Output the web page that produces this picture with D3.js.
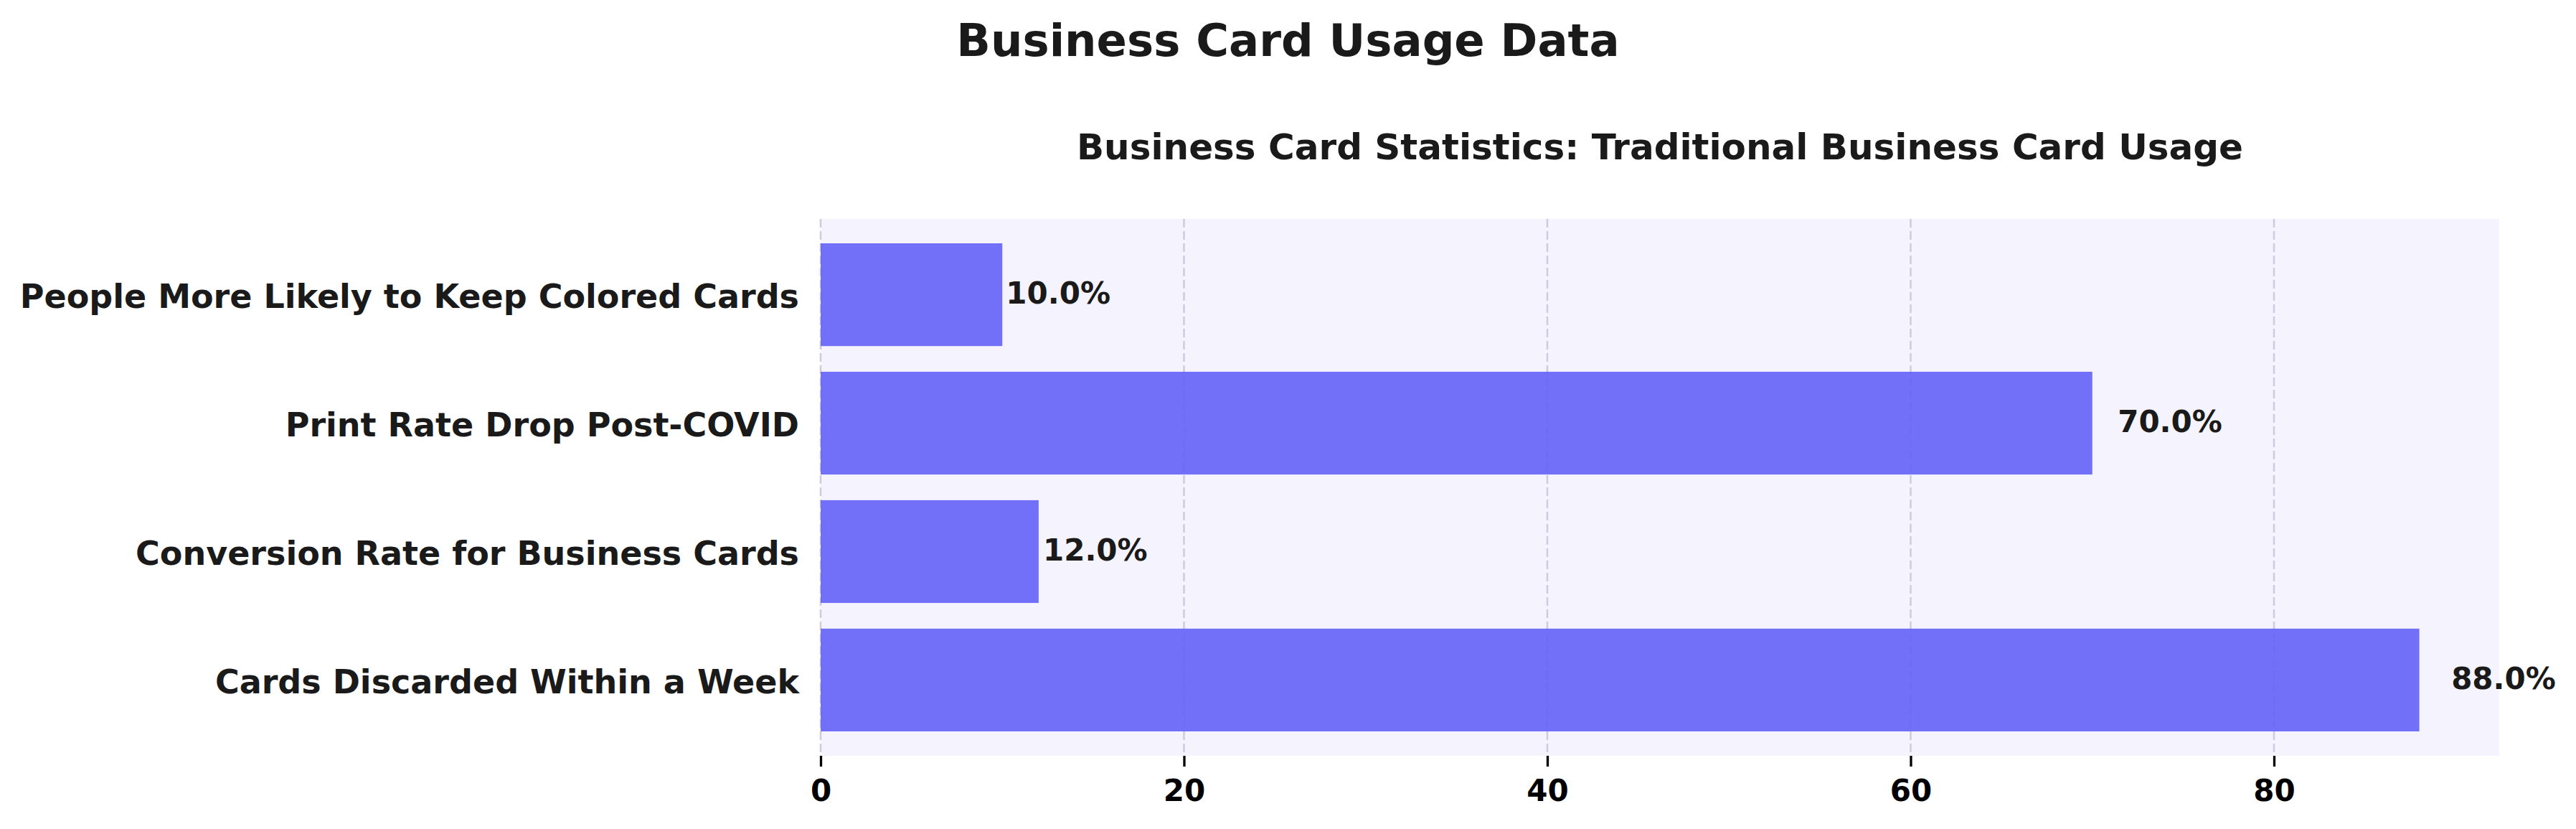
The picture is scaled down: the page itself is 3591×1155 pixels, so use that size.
<!DOCTYPE html>
<html lang="en">
  <head>
    <meta charset="UTF-8" />
    <title>Business Card Usage Data</title>
    <script src="https://d3js.org/d3.v7.min.js"></script>
    <style>
      body {
        margin: 0;
        background: #fff;
      }
      text {
        font-family: "DejaVu Sans", sans-serif;
        font-weight: bold;
      }
    </style>
  </head>
  <body>
    <div id="chart"></div>

    <script>
      // data (top to bottom as shown)
      const categories = [
        "People More Likely to Keep Colored Cards",
        "Print Rate Drop Post-COVID",
        "Conversion Rate for Business Cards",
        "Cards Discarded Within a Week",
      ];
      const values = [10, 70, 12, 88];
      const xTicks = [0, 20, 40, 60, 80];

      const width = 3591,
        height = 1155;
      const margin = { top: 305, right: 107, bottom: 102, left: 1144 };

      const svg = d3
        .select("#chart")
        .append("svg")
        .attr("width", width)
        .attr("height", height);

      const x = d3
        .scaleLinear()
        .domain([0, d3.max(values) * 1.05])
        .range([margin.left, width - margin.right]);

      const y = d3
        .scaleBand()
        .domain(categories)
        .range([margin.top, height - margin.bottom])
        .paddingInner(0.2)
        .paddingOuter(0.19);

      // plot background
      svg
        .append("rect")
        .attr("x", margin.left)
        .attr("y", margin.top)
        .attr("width", width - margin.right - margin.left)
        .attr("height", height - margin.bottom - margin.top)
        .attr("fill", "#f5f3fd");

      // dashed vertical grid
      svg
        .append("g")
        .selectAll("line")
        .data(xTicks)
        .enter()
        .append("line")
        .attr("x1", (d) => x(d))
        .attr("x2", (d) => x(d))
        .attr("y1", margin.top)
        .attr("y2", height - margin.bottom)
        .attr("stroke", "#cfcadf")
        .attr("stroke-width", 2.5)
        .attr("stroke-dasharray", "12,5");

      // bars
      svg
        .append("g")
        .selectAll("rect")
        .data(values)
        .enter()
        .append("rect")
        .attr("x", x(0))
        .attr("y", (d, i) => y(categories[i]))
        .attr("width", (d) => x(d) - x(0))
        .attr("height", y.bandwidth())
        .attr("fill", "#6461f8")
        .attr("fill-opacity", 0.9);

      // value labels
      svg
        .append("g")
        .selectAll("text")
        .data(values)
        .enter()
        .append("text")
        .attr("x", (d) => x(d * 1.02))
        .attr("y", (d, i) => y(categories[i]) + y.bandwidth() / 2)
        .attr("dy", "0.29em")
        .attr("font-size", 42)
        .attr("fill", "#1a1a1a")
        .text((d) => d.toFixed(1) + "%");

      // y labels
      svg
        .append("g")
        .selectAll("text")
        .data(categories)
        .enter()
        .append("text")
        .attr("x", margin.left - 30)
        .attr("y", (d) => y(d) + y.bandwidth() / 2)
        .attr("dy", "0.4em")
        .attr("text-anchor", "end")
        .attr("font-size", 46)
        .attr("fill", "#1a1a1a")
        .text((d) => d);

      // x axis
      const xAxis = svg
        .append("g")
        .attr("transform", `translate(0,${height - margin.bottom})`)
        .call(
          d3
            .axisBottom(x)
            .tickValues(xTicks)
            .tickSize(15)
            .tickPadding(18)
            .tickFormat(d3.format("d"))
        );
      xAxis.select(".domain").remove();
      xAxis.selectAll(".tick line").attr("stroke", "#000").attr("stroke-width", 3.3);
      xAxis
        .selectAll(".tick text")
        .attr("font-size", 42)
        .attr("font-family", "DejaVu Sans")
        .attr("font-weight", "bold")
        .attr("fill", "#000");

      // titles
      svg
        .append("text")
        .attr("x", width / 2)
        .attr("y", 78)
        .attr("text-anchor", "middle")
        .attr("font-size", 62.5)
        .attr("fill", "#1a1a1a")
        .text("Business Card Usage Data");

      svg
        .append("text")
        .attr("x", (margin.left + width - margin.right) / 2)
        .attr("y", 222)
        .attr("text-anchor", "middle")
        .attr("font-size", 50)
        .attr("fill", "#1a1a1a")
        .text("Business Card Statistics: Traditional Business Card Usage");
    </script>
  </body>
</html>
